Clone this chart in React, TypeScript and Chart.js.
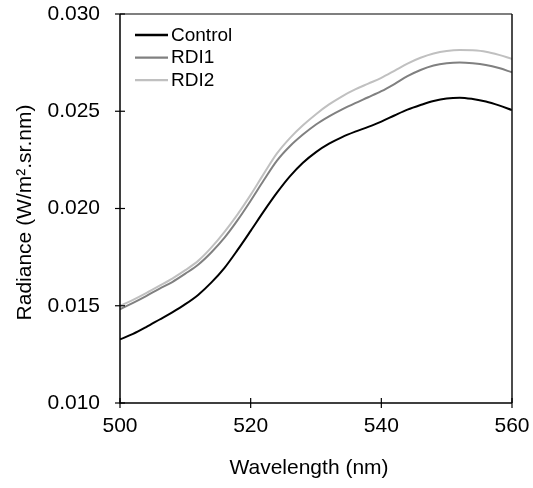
import React, { useEffect, useRef } from "react";
import { Chart, registerables } from "chart.js";

Chart.register(...registerables);

const wavelengths = [
  500, 502, 504, 506, 508, 510, 512, 514, 516, 518, 520, 522, 524, 526, 528, 530,
  532, 534, 536, 538, 540, 542, 544, 546, 548, 550, 552, 554, 556, 558, 560,
];
const control = [
  0.01327, 0.01355, 0.0139, 0.01428, 0.01466, 0.01508, 0.01557, 0.0162, 0.01695, 0.01787,
  0.01885, 0.01985, 0.0208, 0.02165, 0.02235, 0.0229, 0.02333, 0.02367, 0.02395, 0.0242,
  0.02447, 0.02478, 0.02508, 0.02532, 0.02553, 0.02566, 0.0257, 0.02563, 0.0255, 0.0253, 0.02506,
];
const rdi1 = [
  0.01482, 0.01515, 0.0155, 0.01587, 0.01622, 0.01665, 0.01712, 0.01775, 0.0185, 0.0194,
  0.0204, 0.02145, 0.02245, 0.0232, 0.0238, 0.02432, 0.02474, 0.0251, 0.02542, 0.02572,
  0.02603, 0.0264, 0.0268, 0.02712, 0.02735, 0.02747, 0.02751, 0.02747, 0.02738, 0.02722, 0.027,
];
const rdi2 = [
  0.01499, 0.0153, 0.01565, 0.01602, 0.0164, 0.01683, 0.01732, 0.018, 0.0188, 0.0197,
  0.0207, 0.02178, 0.02282, 0.02362, 0.02428, 0.02485, 0.02535, 0.02577, 0.02612, 0.02642,
  0.02672, 0.02708, 0.02745, 0.02775, 0.02797, 0.0281, 0.02815, 0.02813, 0.02806, 0.0279, 0.02769,
];
const seriesNames = ["Control", "RDI1", "RDI2"];
const seriesColors = ["#000000", "#808080", "#c0c0c0"];
const xTicks = [500, 520, 540, 560];
const yTicks = [0.01, 0.015, 0.02, 0.025, 0.03];
const xTitle = "Wavelength (nm)";
const yTitle = "Radiance (W/m\u00B2.sr.nm)";

const FONT = "'Liberation Sans', Arial, sans-serif";

const decorPlugin = {
  id: "decor",
  afterDraw(chart: any) {
    const ctx = chart.ctx;
    const { left, right, top, bottom } = chart.chartArea;
    const xs = chart.scales.x;
    const ys = chart.scales.y;
    ctx.save();
    ctx.lineCap = "butt";
    ctx.strokeStyle = "#555555";
    ctx.lineWidth = 1.5;
    ctx.beginPath();
    ctx.moveTo(left, top);
    ctx.lineTo(right, top);
    ctx.stroke();
    ctx.strokeStyle = "#111111";
    ctx.beginPath();
    ctx.moveTo(right, top);
    ctx.lineTo(right, bottom);
    ctx.stroke();
    ctx.strokeStyle = "#000000";
    ctx.beginPath();
    ctx.moveTo(left, top);
    ctx.lineTo(left, bottom);
    ctx.lineTo(right, bottom);
    ctx.stroke();
    ctx.lineWidth = 1.2;
    xTicks.forEach((v) => {
      const px = xs.getPixelForValue(v);
      ctx.beginPath();
      ctx.moveTo(px, bottom - 5);
      ctx.lineTo(px, bottom + 5);
      ctx.stroke();
    });
    yTicks.forEach((v) => {
      const py = ys.getPixelForValue(v);
      ctx.beginPath();
      ctx.moveTo(left - 5, py);
      ctx.lineTo(left + 5, py);
      ctx.stroke();
    });
    ctx.font = `19px ${FONT}`;
    ctx.textAlign = "left";
    ctx.textBaseline = "middle";
    const lx = left + 15;
    seriesNames.forEach((name, i) => {
      const cy = top + 21 + i * 22.6;
      ctx.strokeStyle = seriesColors[i];
      ctx.lineWidth = i === 0 ? 2.5 : 2.2;
      ctx.beginPath();
      ctx.moveTo(lx, cy);
      ctx.lineTo(lx + 33, cy);
      ctx.stroke();
      ctx.fillStyle = "#000000";
      ctx.fillText(name, lx + 36, cy + 0.5);
    });
    ctx.font = `21px ${FONT}`;
    ctx.fillStyle = "#000000";
    ctx.textAlign = "center";
    ctx.textBaseline = "middle";
    ctx.fillText(xTitle, (left + right) / 2 - 7, 468);
    ctx.translate(25, (top + bottom) / 2 + 4);
    ctx.rotate(-Math.PI / 2);
    ctx.fillText(yTitle, 0, 0);
    ctx.restore();
  },
};

export default function App() {
  const ref = useRef<HTMLCanvasElement | null>(null);
  useEffect(() => {
    if (!ref.current) return;
    const seriesValues = [control, rdi1, rdi2];
    const chart = new Chart(ref.current, {
      type: "line",
      data: {
        datasets: seriesNames.map((name, i) => ({
          label: name,
          data: wavelengths.map((w, j) => ({ x: w, y: seriesValues[i][j] })),
          borderColor: seriesColors[i],
          backgroundColor: seriesColors[i],
          borderWidth: 2,
          pointRadius: 0,
          cubicInterpolationMode: "monotone" as const,
          fill: false,
        })),
      },
      options: {
        animation: false,
        responsive: false,
        devicePixelRatio: 1,
        layout: { padding: { top: 14, right: 21, left: 0, bottom: 0 } },
        plugins: {
          legend: { display: false },
          tooltip: { enabled: false },
        },
        scales: {
          x: {
            type: "linear",
            min: 500,
            max: 560,
            grid: { display: false, drawTicks: false },
            border: { display: false },
            afterBuildTicks: (s: any) => {
              s.ticks = xTicks.map((v) => ({ value: v }));
            },
            afterFit: (s: any) => {
              s.height = 85;
              s.paddingLeft = 0;
              s.paddingRight = 0;
            },
            ticks: {
              padding: 11,
              color: "#000000",
              maxRotation: 0,
              autoSkip: false,
              font: { family: FONT, size: 21 },
              callback: (v: any) => String(v),
            },
          },
          y: {
            type: "linear",
            min: 0.01,
            max: 0.03,
            grid: { display: false, drawTicks: false },
            border: { display: false },
            afterBuildTicks: (s: any) => {
              s.ticks = yTicks.map((v) => ({ value: v }));
            },
            afterFit: (s: any) => {
              s.width = 120;
              s.paddingTop = 0;
              s.paddingBottom = 0;
            },
            ticks: {
              padding: 20,
              color: "#000000",
              autoSkip: false,
              font: { family: FONT, size: 21 },
              callback: (v: any) => Number(v).toFixed(3),
            },
          },
        },
      },
      plugins: [decorPlugin],
    });
    return () => chart.destroy();
  }, []);
  return (
    <div style={{ position: "fixed", left: 0, top: 0, width: 533, height: 488 }}>
      <canvas ref={ref} width={533} height={488} style={{ display: "block" }} />
    </div>
  );
}
